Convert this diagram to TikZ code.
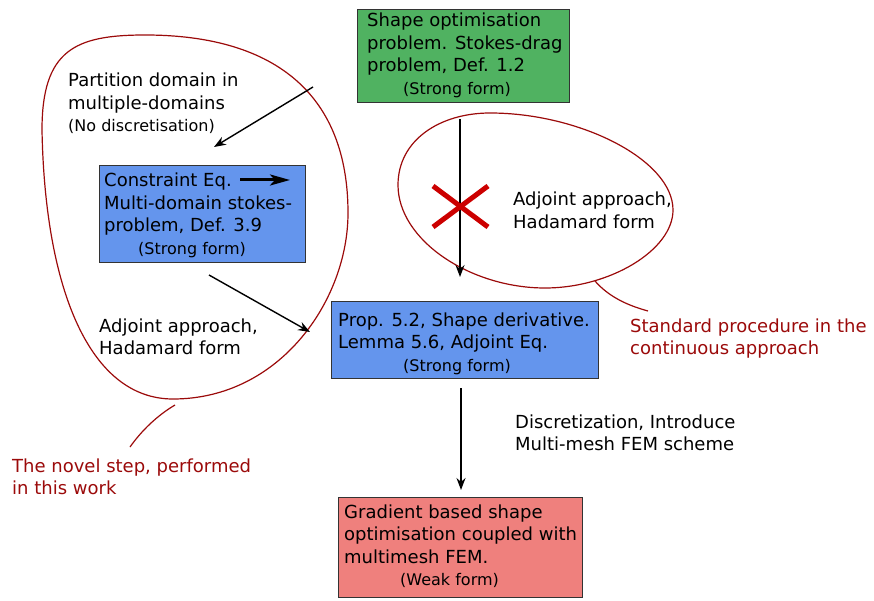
\documentclass[tikz,border=0pt]{standalone}
\usepackage{fontspec}
\setmainfont{DejaVu Sans}
\usetikzlibrary{arrows.meta}
\definecolor{boxgreen}{RGB}{80,178,97}
\definecolor{boxblue}{RGB}{100,149,237}
\definecolor{boxred}{RGB}{239,128,125}
\definecolor{darkred}{RGB}{155,10,10}
\definecolor{crossred}{RGB}{204,0,0}
\newcommand{\mainsz}{\fontsize{18}{22.5}\selectfont}
\newcommand{\smallsz}{\fontsize{16}{20}\selectfont}
\begin{document}
\begin{tikzpicture}[x=1pt,y=-1pt,
  boxnode/.style={draw=black!80, line width=1.2pt, inner sep=0pt, anchor=north west},
  txt/.style={anchor=base west, inner sep=0pt, font=\mainsz},
  note/.style={txt, text=darkred},
  conn/.style={line width=1.4pt, -{Stealth[length=12pt,width=9pt,inset=4pt]}},
  thickconn/.style={line width=3pt, -{Stealth[length=20pt,width=11pt,inset=5pt]}},
  blob/.style={draw=darkred, line width=1.2pt},
  cross/.style={draw=crossred, line width=5pt},
]
\useasboundingbox (0,0) rectangle (874,601);

% boxes
\node[boxnode, fill=boxgreen, minimum width=212pt, minimum height=93pt] (green) at (357,9) {};
\node[boxnode, fill=boxblue, minimum width=206pt, minimum height=97pt] (constr) at (99,165) {};
\node[boxnode, fill=boxblue, minimum width=267pt, minimum height=77pt] (prop) at (331,301) {};
\node[boxnode, fill=boxred, minimum width=244pt, minimum height=100pt] (grad) at (338,497) {};

% box texts
\node[txt] (greentxt) at (367,27) {\begin{tabular}[t]{@{}l@{}}Shape optimisation\\problem. Stokes-drag\\problem, Def. 1.2\\\hspace*{36pt}\smallsz(Strong form)\end{tabular}};
\node[txt] (constrtxt) at (104,187) {\begin{tabular}[t]{@{}l@{}}Constraint Eq.\\Multi-domain stokes-\\problem, Def. 3.9\\\hspace*{34pt}\smallsz(Strong form)\end{tabular}};
\node[txt] (proptxt) at (338,326) {\begin{tabular}[t]{@{}l@{}}Prop. 5.2, Shape derivative.\\Lemma 5.6, Adjoint Eq.\\\hspace*{65pt}\smallsz(Strong form)\end{tabular}};
\node[txt] (gradtxt) at (344,518) {\begin{tabular}[t]{@{}l@{}}Gradient based shape\\optimisation coupled with\\multimesh FEM.\\\hspace*{56pt}\smallsz(Weak form)\end{tabular}};

% free labels
\node[txt] (partition) at (68,87) {\begin{tabular}[t]{@{}l@{}}Partition domain in\\multiple-domains\\\smallsz(No discretisation)\end{tabular}};
\node[txt] (adjleft) at (99,332) {\begin{tabular}[t]{@{}l@{}}Adjoint approach,\\Hadamard form\end{tabular}};
\node[txt] (adjright) at (513,206) {\begin{tabular}[t]{@{}l@{}}Adjoint approach,\\Hadamard form\end{tabular}};
\node[txt] (discr) at (515,428) {\begin{tabular}[t]{@{}l@{}}Discretization, Introduce\\Multi-mesh FEM scheme\end{tabular}};
\node[note] (standard) at (630,332) {\begin{tabular}[t]{@{}l@{}}Standard procedure in the\\continuous approach\end{tabular}};
\node[note] (novel) at (12,472) {\begin{tabular}[t]{@{}l@{}}The novel step, performed\\in this work\end{tabular}};

% blobs
\draw[blob] (145,35) .. controls (278,35) and (348,97) .. (348,213)
  .. controls (348,300) and (280,399) .. (173,399)
  .. controls (90,399) and (45,290) .. (42,130)
  .. controls (42,50) and (75,35) .. cycle;
\draw[blob] (490,113) .. controls (580,113) and (673,160) .. (673,210)
  .. controls (673,250) and (610,288) .. (545,288)
  .. controls (470,288) and (398,240) .. (398,185)
  .. controls (398,140) and (440,113) .. cycle;

% pointers
\coordinate (pr1) at (595,281);
\coordinate (pr2) at (648,311);
\draw[blob] (pr1) .. controls (608,296) and (626,305) .. (pr2);
\coordinate (pl1) at (175,405);
\coordinate (pl2) at (130,447);
\draw[blob] (pl1) .. controls (158,415) and (142,430) .. (pl2);

% connectors
\coordinate (a1s) at (313,87);
\coordinate (a1e) at (214,147);
\draw[conn] (a1s) -- (a1e);
\coordinate (a2s) at (209,275);
\coordinate (a2e) at (310,332);
\draw[conn] (a2s) -- (a2e);
\coordinate (a3s) at (460,119);
\coordinate (a3e) at (460,277);
\draw[conn] (a3s) -- (a3e);
\coordinate (a4s) at (461,388);
\coordinate (a4e) at (461,490);
\draw[conn] (a4s) -- (a4e);
\coordinate (tks) at (240,180);
\coordinate (tke) at (290,180);
\draw[thickconn] (tks) -- (tke);

% cross
\coordinate (x1) at (433,186);
\coordinate (x2) at (488,227);
\coordinate (x3) at (433,227);
\coordinate (x4) at (488,186);
\draw[cross] (x1) -- (x2);
\draw[cross] (x3) -- (x4);
\end{tikzpicture}
\end{document}
